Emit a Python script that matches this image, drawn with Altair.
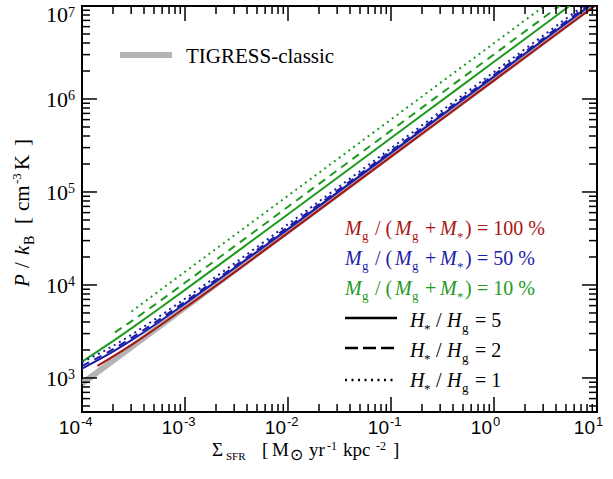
import altair as alt
import pandas as pd

# ---------------- layout ----------------
W, H = 515, 406          # plot area
X0, Y0 = 82, 6           # plot-area origin in the page
XMIN, XMAX = 1e-4, 10.0
YMIN, YMAX = 10 ** 2.634, 1e7

SERIF = "Liberation Serif"
SANS = "Liberation Sans"
RED, BLUE, GREEN, GRAY = "#a81414", "#1c1ca8", "#1e9a1e", "#b4b4b4"

# ---------------- data (log10 values) ----------------
lx_grid = [-4.0, -3.75, -3.5, -3.25, -3.0, -2.5, -2.0, -1.0, 0.0, 1.0]

red_lx = [-3.85, -3.5, -3.0, -2.0, -1.0, 0.0, 1.0]
red_ly = [3.13, 3.37, 3.755, 4.56, 5.38, 6.20, 7.02]

blue_solid_ly = [3.10, 3.25, 3.42, 3.605, 3.80, 4.197, 4.60, 5.42, 6.24, 7.06]
blue_dashed_ly = [3.13, 3.276, 3.445, 3.628, 3.82, 4.217, 4.623, 5.44, 6.26, 7.08]
blue_dotted_ly = [3.17, 3.312, 3.479, 3.661, 3.852, 4.248, 4.653, 5.47, 6.29, 7.11]
green_solid_ly = [3.175, 3.358, 3.55, 3.747, 3.947, 4.353, 4.761, 5.58, 6.40, 7.22]

green_dashed_lx = [-3.68, -3.5, -3.25, -3.0, -2.5, -2.0, -1.0, 0.0, 1.0]
green_dashed_ly = [3.49, 3.625, 3.822, 4.024, 4.432, 4.841, 5.66, 6.48, 7.30]

green_dotted_lx = [-3.52, -3.25, -3.0, -2.5, -2.0, -1.0, 0.0, 1.0]
green_dotted_ly = [3.714, 3.937, 4.142, 4.551, 4.96, 5.78, 6.60, 7.42]

tigress_lx = [-4.0, -3.0, -2.0, -1.0, 0.0, 1.0]
tigress_ly = [2.94, 3.76, 4.58, 5.40, 6.22, 7.04]

x_major = [1e-4, 1e-3, 1e-2, 1e-1, 1.0, 10.0]
x_exp = ["-4", "-3", "-2", "-1", "0", "1"]
y_major = [1e3, 1e4, 1e5, 1e6, 1e7]
y_exp = ["3", "4", "5", "6", "7"]
mantissas = [2, 3, 4, 5, 6, 7, 8, 9]
x_minor = [m * 10.0 ** d for d in range(-4, 1) for m in mantissas]
y_minor = [m * 10.0 ** d for d in range(2, 7) for m in mantissas if m * 10.0 ** d >= YMIN]

xs = alt.Scale(type="log", domain=[XMIN, XMAX], nice=False)
ys = alt.Scale(type="log", domain=[YMIN, YMAX], nice=False)


def line_layer(lx, ly, color, width, dash=None):
    df = pd.DataFrame({"x": [10 ** v for v in lx], "y": [10 ** v for v in ly]})
    kw = dict(color=color, strokeWidth=width, clip=True, interpolate="monotone")
    if dash:
        kw["strokeDash"] = dash
    return alt.Chart(df).mark_line(**kw).encode(
        x=alt.X("x:Q", scale=xs, axis=None),
        y=alt.Y("y:Q", scale=ys, axis=None),
    )


def one():
    return alt.Data(values=[{"a": 1}])


def txt(s, px, py, size, color="black", italic=False, font=SERIF, angle=0,
        align="left", baseline="alphabetic"):
    return alt.Chart(one()).mark_text(
        text=s, fontSize=size, font=font,
        fontStyle="italic" if italic else "normal",
        color=color, align=align, baseline=baseline, angle=angle,
    ).encode(x=alt.value(px - X0), y=alt.value(py - Y0))


def hrule(x1, x2, py, color, width, dash=None):
    kw = dict(color=color, strokeWidth=width)
    if dash:
        kw["strokeDash"] = dash
    return alt.Chart(one()).mark_rule(**kw).encode(
        x=alt.value(x1 - X0), x2=alt.value(x2 - X0), y=alt.value(py - Y0))


def tick_layer(vals, length, side):
    df = pd.DataFrame({"v": vals})
    if side == "bottom":
        enc = dict(x=alt.X("v:Q", scale=xs, axis=None), y=alt.value(H), y2=alt.value(H - length))
    elif side == "top":
        enc = dict(x=alt.X("v:Q", scale=xs, axis=None), y=alt.value(0), y2=alt.value(length))
    elif side == "left":
        enc = dict(y=alt.Y("v:Q", scale=ys, axis=None), x=alt.value(0), x2=alt.value(length))
    else:
        enc = dict(y=alt.Y("v:Q", scale=ys, axis=None), x=alt.value(W), x2=alt.value(W - length))
    return alt.Chart(df).mark_rule(color="black", strokeWidth=1.5).encode(**enc)


layers = []

# data lines
layers.append(line_layer(tigress_lx, tigress_ly, GRAY, 6))
layers.append(line_layer(green_dotted_lx, green_dotted_ly, GREEN, 2, [2, 4]))
layers.append(line_layer(green_dashed_lx, green_dashed_ly, GREEN, 2, [8, 6]))
layers.append(line_layer(lx_grid, green_solid_ly, GREEN, 2))
layers.append(line_layer(lx_grid, blue_dotted_ly, BLUE, 2, [2, 4]))
layers.append(line_layer(lx_grid, blue_dashed_ly, BLUE, 2, [8, 6]))
layers.append(line_layer(lx_grid, blue_solid_ly, BLUE, 2))
layers.append(line_layer(red_lx, red_ly, RED, 2))

# ticks (inward, all four sides)
for side in ["bottom", "top"]:
    layers.append(tick_layer(x_major, 15, side))
    layers.append(tick_layer(x_minor, 8, side))
for side in ["left", "right"]:
    layers.append(tick_layer(y_major, 15, side))
    layers.append(tick_layer(y_minor, 8, side))

# x tick labels
xdf = pd.DataFrame({"v": x_major, "e": x_exp})
layers.append(alt.Chart(xdf).mark_text(text="10", font=SANS, fontSize=19, align="right",
                                       baseline="alphabetic", dx=-2).encode(
    x=alt.X("v:Q", scale=xs, axis=None), y=alt.value(434 - Y0)))
layers.append(alt.Chart(xdf).mark_text(font=SANS, fontSize=13, align="left",
                                       baseline="alphabetic", dx=-1).encode(
    x=alt.X("v:Q", scale=xs, axis=None), y=alt.value(426 - Y0), text="e:N"))

# y tick labels
ydf = pd.DataFrame({"v": y_major[:-1], "e": y_exp[:-1]})
layers.append(alt.Chart(ydf).mark_text(text="10", font=SERIF, fontSize=22, align="right",
                                       baseline="alphabetic", dy=8).encode(
    y=alt.Y("v:Q", scale=ys, axis=None), x=alt.value(68 - X0)))
layers.append(alt.Chart(ydf).mark_text(font=SERIF, fontSize=14, align="left",
                                       baseline="alphabetic", dy=1).encode(
    y=alt.Y("v:Q", scale=ys, axis=None), x=alt.value(68 - X0), text="e:N"))
ytop = pd.DataFrame({"v": y_major[-1:], "e": y_exp[-1:]})
layers.append(alt.Chart(ytop).mark_text(text="10", font=SERIF, fontSize=22, align="right",
                                        baseline="alphabetic", dy=16).encode(
    y=alt.Y("v:Q", scale=ys, axis=None), x=alt.value(68 - X0)))
layers.append(alt.Chart(ytop).mark_text(font=SERIF, fontSize=14, align="left",
                                        baseline="alphabetic", dy=11).encode(
    y=alt.Y("v:Q", scale=ys, axis=None), x=alt.value(68 - X0), text="e:N"))

# x title:  Σ_SFR [ M⊙ yr^-1 kpc^-2 ]
XB = 456
layers += [
    txt("Σ", 212, XB, 19),
    txt("SFR", 226, XB + 4, 11),
    txt("[", 262, XB, 19),
    txt("M", 272, XB, 19),
    txt("⊙", 290, XB + 4, 16),
    txt("yr", 309, XB, 19),
    txt("-1", 327, XB - 6, 12),
    txt("kpc", 343, XB, 19),
    txt("-2", 376, XB - 6, 12),
    txt("]", 393, XB, 19),
]

# y title (rotated):  P / k_B [ cm^-3 K ]
YB = 29
layers += [
    txt("P", YB, 287, 21, italic=True, angle=270),
    txt("/", YB, 268, 21, angle=270),
    txt("k", YB, 255, 21, italic=True, angle=270),
    txt("B", YB + 5, 245, 14, angle=270),
    txt("[", YB, 224, 21, angle=270),
    txt("cm", YB, 211, 21, angle=270),
    txt("-3", YB - 8, 184, 13, angle=270),
    txt("K", YB, 170, 21, angle=270),
    txt("]", YB, 146, 21, angle=270),
]

# legend: TIGRESS-classic
layers.append(hrule(120, 172, 55, GRAY, 6))
layers.append(txt("TIGRESS-classic", 186, 63, 21))

# legend: gas fractions
for base, col, val in [(235, RED, "100"), (265, BLUE, "50"), (295, GREEN, "10")]:
    layers += [
        txt("M", 345, base, 20, col, italic=True),
        txt("g", 362, base + 5, 13, col),
        txt("/ (", 375, base, 20, col),
        txt("M", 395, base, 20, col, italic=True),
        txt("g", 412, base + 5, 13, col),
        txt("+", 425, base, 20, col),
        txt("M", 440, base, 20, col, italic=True),
        txt("*", 457, base + 6, 13, col),
        txt(")", 465, base, 20, col),
        txt("= " + val + " %", 477, base, 20, col),
    ]

# legend: scale heights
for base, ly, dash, val in [(327, 318, None, "5"), (357, 348, [13, 5], "2"), (387, 380, [2, 4.5], "1")]:
    layers.append(hrule(345, 397, ly, "black", 2.5, dash))
    layers += [
        txt("H", 410, base, 20, italic=True),
        txt("*", 424, base + 6, 13),
        txt("/", 436, base, 20),
        txt("H", 447, base, 20, italic=True),
        txt("g", 462, base + 5, 13),
        txt("= " + val, 475, base, 20),
    ]

chart = alt.layer(*layers).properties(
    width=W, height=H,
    autosize=alt.AutoSizeParams(type="none"),
    padding={"left": X0, "top": Y0, "right": 613 - X0 - W, "bottom": 479 - Y0 - H},
    background="white",
).configure_view(stroke="black", strokeWidth=2)

chart.save("out.html", embed_options={"renderer": "svg", "actions": False})
